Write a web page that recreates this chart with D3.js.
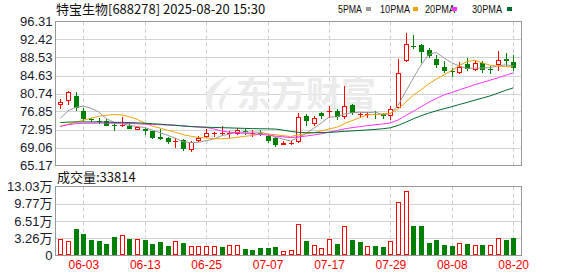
<!DOCTYPE html>
<html>
<head>
<meta charset="utf-8">
<script src="https://cdn.jsdelivr.net/npm/d3@7"></script>
<style>
    body { margin: 0; background: #fff; }
    svg text { font-family: Arial, "Liberation Sans", "Noto Sans CJK SC", sans-serif; }
</style>
</head>
<body>
<div id="chart"></div>
<script>
// trading days shown on the chart
var dates = ["05-28","05-29","05-30","06-03","06-04","06-05","06-06","06-09","06-10","06-11",
    "06-12","06-13","06-16","06-17","06-18","06-19","06-20","06-23","06-24","06-25",
    "06-26","06-27","06-30","07-01","07-02","07-03","07-04","07-07","07-08","07-09",
    "07-10","07-11","07-14","07-15","07-16","07-17","07-18","07-21","07-22","07-23",
    "07-24","07-25","07-28","07-29","07-30","07-31","08-01","08-04","08-05","08-06",
    "08-07","08-08","08-11","08-12","08-13","08-14","08-15","08-18","08-19","08-20"];

var opens = [78.17,79.17,80.2,76.97,75.15,74.8,74.86,73.95,73.75,73.73,
    72.94,73.12,72.57,71.25,71.09,70.3,70.77,68.59,70.55,71.37,
    72.1,72.05,71.95,72.07,72.57,72.0,72.15,71.49,71.05,69.59,
    69.98,70.18,75.84,74.21,76.43,76.7,77.04,75.62,78.24,75.99,
    76.2,76.3,76.23,75.95,77.52,87.71,91.0,91.15,90.21,88.25,
    86.51,85.7,85.14,87.16,85.75,87.27,86.1,86.88,88.19,87.6];
var highs = [79.61,81.35,81.13,77.58,75.51,75.47,75.25,74.6,75.56,74.6,
    73.7,73.34,72.7,73.0,71.33,71.2,70.83,70.4,71.49,73.07,
    72.5,73.66,72.64,73.23,73.07,72.85,72.9,72.03,71.33,70.55,
    70.6,76.49,76.28,75.84,76.71,78.02,77.43,82.31,78.45,76.82,
    76.8,77.0,76.49,78.06,88.25,93.91,93.48,91.41,90.65,89.06,
    87.71,86.23,87.6,88.32,87.93,87.71,86.73,89.93,89.49,89.06];
var lows = [77.43,78.24,76.99,74.82,74.64,74.21,73.66,72.64,73.44,73.01,
    72.85,71.81,71.0,70.75,69.89,69.0,68.22,67.99,70.29,71.16,
    71.35,71.76,71.2,71.81,71.7,71.3,71.5,70.03,69.15,69.55,
    69.6,70.07,73.77,73.66,75.3,75.5,75.08,75.25,76.06,75.4,
    75.4,75.25,75.19,75.04,77.37,87.6,90.32,87.27,88.36,86.23,
    85.14,84.27,84.99,85.64,85.53,85.14,85.05,85.71,86.73,85.57];
var closes = [78.89,81.0,77.69,75.19,75.1,74.7,73.77,73.7,73.95,73.07,
    73.55,72.64,71.16,70.95,70.18,70.45,68.72,70.33,71.16,72.1,
    72.2,72.15,72.2,72.95,72.4,72.2,72.05,70.46,69.63,70.07,
    70.12,75.69,74.75,75.34,75.78,76.85,75.62,78.13,76.49,76.32,
    76.4,76.15,75.84,77.3,85.14,91.41,90.9,89.78,88.84,87.01,
    85.64,85.55,86.4,86.14,87.43,85.79,85.95,87.97,87.67,86.23];

// volume in lots (手)
var volumes = [31900,26700,49600,40100,28600,26700,21000,34300,39500,30500,
    31800,28600,21000,24800,17200,26700,22900,18500,17200,17200,
    17200,15300,19100,19100,11400,9500,13400,13400,15300,7600,
    9500,58600,26700,20400,14700,31900,21000,56600,28600,24800,
    18500,17200,15300,26700,100500,121500,55300,55300,22900,28600,
    19100,17200,24200,21000,20400,19100,19100,33800,28600,33814];

// moving averages as drawn
var ma5 = [75.35,77.0,77.75,78.0,77.57,76.74,75.29,74.49,74.24,73.84,
    73.61,73.38,72.85,72.25,71.68,71.08,70.29,70.13,70.17,70.55,
    70.91,71.59,71.96,72.33,72.37,72.40,72.36,72.01,71.35,70.87,
    70.47,71.21,72.06,73.21,74.34,75.68,75.67,76.34,76.57,76.68,
    76.59,76.70,76.24,76.40,78.15,81.17,84.12,86.91,89.21,89.59,
    88.43,87.36,86.69,86.15,86.23,86.26,86.34,86.66,86.96,86.72];
var ma10 = [73.7,74.1,74.5,74.95,75.4,75.8,76.05,76.2,76.1,75.71,
    75.17,74.34,73.68,73.26,72.77,72.34,71.84,71.50,71.22,71.13,
    70.99,70.93,71.05,71.25,71.47,71.65,71.98,71.99,71.84,71.63,
    71.44,71.78,72.04,72.27,72.61,73.08,73.42,74.19,74.88,75.50,
    76.14,76.17,76.28,76.48,77.41,78.87,80.40,81.56,82.80,83.87,
    84.79,85.73,86.80,87.68,87.91,87.35,86.85,86.67,86.56,86.48];
var ma20 = [73.6,74.0,74.2,74.3,74.3,74.35,74.35,74.3,74.3,74.25,
    74.2,74.1,74.05,74.0,73.95,73.9,73.75,73.6,73.5,73.42,
    73.08,72.65,72.37,72.26,72.12,72.0,71.91,71.75,71.53,71.38,
    71.20,71.36,71.54,71.76,72.04,72.36,72.70,73.09,73.36,73.57,
    73.78,73.97,74.15,74.37,75.01,75.97,76.91,77.88,78.84,79.68,
    80.46,80.96,81.54,82.08,82.66,83.11,83.63,84.12,84.68,85.17];
var ma30 = [74.45,74.55,74.6,74.6,74.6,74.6,74.55,74.5,74.5,74.45,
    74.4,74.3,74.2,74.1,73.95,73.85,73.7,73.6,73.5,73.45,
    73.4,73.35,73.3,73.25,73.2,73.15,73.12,73.1,73.05,72.83,
    72.53,72.35,72.26,72.26,72.28,72.35,72.42,72.56,72.65,72.75,
    72.86,72.97,73.12,73.33,73.83,74.53,75.27,75.92,76.50,77.00,
    77.45,77.89,78.37,78.81,79.31,79.76,80.23,80.81,81.41,81.95];

var priceTicks = [96.31, 92.42, 88.53, 84.63, 80.74, 76.85, 72.95, 69.06, 65.17];
var volMax = 130300;
var volTickLabels = ["0", "3.26万", "6.51万", "9.77万", "13.03万"];
var dateTicks = ["06-03", "06-13", "06-25", "07-07", "07-17", "07-29", "08-08", "08-20"];

var maNames = ["5PMA", "10PMA", "20PMA", "30PMA"];
var maColors = ["#999999", "#f0a30a", "#ff33ff", "#006b2e"];
var maSeries = [ma5, ma10, ma20, ma30];

var upColor = "#ff0000", downColor = "#008000";

// layout
var width = 578, height = 276;
var left = 55.5, right = 521.5;
var priceTop = 21.5, priceBottom = 165.5;
var volTop = 186.5, volBottom = 255.5;

var svg = d3.select("#chart")
    .append("svg")
    .attr("width", width)
    .attr("height", height);

var x = d3.scalePoint()
    .domain(dates)
    .range([60.3, 513.2]);

var y = d3.scaleLinear()
    .domain([65.17, 96.31])
    .range([priceBottom, priceTop]);

var yv = d3.scaleLinear()
    .domain([0, volMax])
    .range([volBottom, volTop]);

// horizontal grid
svg.append("g").selectAll("line")
    .data(priceTicks.slice(1, -1))
    .enter().append("line")
    .attr("x1", left).attr("x2", right)
    .attr("y1", function (d) { return Math.round(y(d)) + 0.5; })
    .attr("y2", function (d) { return Math.round(y(d)) + 0.5; })
    .attr("stroke", "#d4d4d4");

svg.append("g").selectAll("line")
    .data([1, 2, 3])
    .enter().append("line")
    .attr("x1", left).attr("x2", right)
    .attr("y1", function (d) { return Math.round(yv(volMax * d / 4)) + 0.5; })
    .attr("y2", function (d) { return Math.round(yv(volMax * d / 4)) + 0.5; })
    .attr("stroke", "#d4d4d4");

// vertical dashed grid on both panels
[[priceTop, priceBottom], [volTop, volBottom]].forEach(function (r) {
    svg.append("g").selectAll("line")
        .data(dateTicks)
        .enter().append("line")
        .attr("x1", function (d) { return Math.round(x(d)) + 0.5; })
        .attr("x2", function (d) { return Math.round(x(d)) + 0.5; })
        .attr("y1", r[0]).attr("y2", r[1])
        .attr("stroke", "#cccccc")
        .attr("stroke-dasharray", "4,3");
});

// watermark
var wm = svg.append("g").attr("fill", "#ebebeb");
wm.append("path")
    .attr("d", "M228,76 C206,84 199,101 213,111 C209,101 213,89 228,76 Z M232,86 C219,94 216,104 222,111 C222,103 225,96 232,86 Z");
wm.append("text")
    .attr("x", 236).attr("y", 107)
    .attr("font-size", 35)
    .attr("font-weight", "bold")
    .style("font-family", "'Noto Sans CJK SC', sans-serif")
    .text("东方财富");

// candles
var bw = 5;
var candles = svg.append("g").attr("shape-rendering", "crispEdges");
dates.forEach(function (d, i) {
    var o = opens[i], c = closes[i];
    var up = c >= o;
    var col = up ? upColor : downColor;
    var cx = Math.round(x(d)) + 0.5;
    var top = Math.round(y(Math.max(o, c)));
    var bot = Math.max(top + 1, Math.round(y(Math.min(o, c))));
    candles.append("line")
        .attr("x1", cx).attr("x2", cx)
        .attr("y1", y(highs[i])).attr("y2", top)
        .attr("stroke", col);
    candles.append("line")
        .attr("x1", cx).attr("x2", cx)
        .attr("y1", bot).attr("y2", y(lows[i]))
        .attr("stroke", col);
    candles.append("rect")
        .attr("x", cx - 2.5).attr("y", top + 0.5)
        .attr("width", bw - 1).attr("height", Math.max(0.01, bot - top - 1))
        .attr("fill", up ? "#fff" : col)
        .attr("stroke", col);
});

// moving average lines
maSeries.forEach(function (s, k) {
    svg.append("path")
        .datum(s)
        .attr("fill", "none")
        .attr("stroke", maColors[k])
        .attr("stroke-width", 1)
        .attr("d", d3.line()
            .x(function (v, i) { return x(dates[i]); })
            .y(function (v) { return y(v); }));
});

// volume bars, coloured by change against the previous close
var vbars = svg.append("g").attr("shape-rendering", "crispEdges");
dates.forEach(function (d, i) {
    var prev = i > 0 ? closes[i - 1] : opens[i];
    var up = closes[i] >= prev;
    var col = up ? upColor : downColor;
    var cx = Math.round(x(d)) + 0.5;
    var top = Math.round(yv(volumes[i]));
    vbars.append("rect")
        .attr("x", cx - 2.5).attr("y", top + 0.5)
        .attr("width", bw - 1).attr("height", Math.max(0.01, volBottom - 0.5 - top - 1))
        .attr("fill", up ? "#fff" : col)
        .attr("stroke", col);
});

// panel borders
[[priceTop, priceBottom], [volTop, volBottom]].forEach(function (r) {
    svg.append("rect")
        .attr("x", left).attr("y", r[0])
        .attr("width", right - left).attr("height", r[1] - r[0])
        .attr("fill", "none")
        .attr("stroke", "#999999");
});

// price axis labels
svg.append("g")
    .attr("transform", "translate(" + (left - 1) + ",0)")
    .call(d3.axisLeft(y).tickValues(priceTicks).tickSize(0).tickPadding(2)
        .tickFormat(d3.format(".2f")))
    .call(function (g) { g.select(".domain").remove(); })
    .selectAll("text")
    .attr("font-size", 13)
    .style("font-family", "Arial, 'Liberation Sans', sans-serif")
    .attr("fill", "#1a1a2e");

// volume axis labels
svg.append("g")
    .attr("transform", "translate(" + (left - 1) + ",0)")
    .call(d3.axisLeft(yv).tickValues([0, 1, 2, 3, 4].map(function (k) { return volMax * k / 4; }))
        .tickSize(0).tickPadding(2)
        .tickFormat(function (d, i) { return volTickLabels[i]; }))
    .call(function (g) { g.select(".domain").remove(); })
    .selectAll("text")
    .attr("font-size", 13)
    .attr("fill", "#1a1a2e");

// date labels
svg.append("g")
    .attr("transform", "translate(0," + (volBottom + 2) + ")")
    .call(d3.axisBottom(x).tickValues(dateTicks).tickSize(0).tickPadding(3))
    .call(function (g) { g.select(".domain").remove(); })
    .selectAll("text")
    .attr("font-size", 12)
    .attr("fill", upColor);

// title and volume caption
svg.append("text")
    .attr("x", 56).attr("y", 14)
    .attr("font-size", 13)
    .style("font-family", "'Noto Sans CJK SC', sans-serif")
    .attr("fill", "#111")
    .text("特宝生物[688278] 2025-08-20 15:30");

svg.append("text")
    .attr("x", 57).attr("y", 182)
    .attr("font-size", 13)
    .style("font-family", "'Noto Sans CJK SC', sans-serif")
    .attr("fill", "#111")
    .text("成交量:" + volumes[volumes.length - 1]);

// legend: narrow labels followed by a colour swatch
var legendX = [338, 380, 425, 472];
var legendW = [24, 30, 30, 30];
var swatchX = [366, 413, 452, 507];
maNames.forEach(function (n, k) {
    svg.append("text")
        .attr("x", legendX[k]).attr("y", 13)
        .attr("font-size", 11)
        .attr("textLength", legendW[k])
        .attr("lengthAdjust", "spacingAndGlyphs")
        .attr("fill", "#111")
        .text(n);
    svg.append("rect")
        .attr("x", swatchX[k]).attr("y", 7)
        .attr("width", 5).attr("height", 4)
        .attr("fill", maColors[k]);
});
</script>
</body>
</html>
